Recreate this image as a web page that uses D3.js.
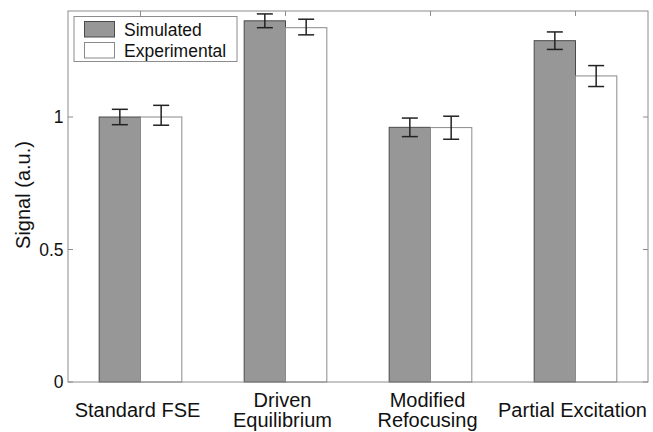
<!DOCTYPE html>
<html><head><meta charset="utf-8">
<script src="https://cdn.jsdelivr.net/npm/d3@7"></script>
<style>body{margin:0;background:#fff;} text{font-family:"Liberation Sans",Arial,sans-serif;}</style>
</head><body>
<svg id="c" width="653" height="432"></svg>
<script>
const categories = [["Standard FSE"], ["Driven","Equilibrium"], ["Modified","Refocusing"], ["Partial Excitation"]];
const seriesNames = ["Simulated", "Experimental"];
const simulated = [1.0, 1.363, 0.961, 1.288];
const simulatedErr = [0.029, 0.026, 0.035, 0.033];
const experimental = [1.0, 1.337, 0.960, 1.155];
const experimentalErrLow = [0.031, 0.027, 0.044, 0.040];
const experimentalErrHigh = [0.044, 0.032, 0.043, 0.039];
const yTicks = [0, 0.5, 1];

const svg = d3.select("#c");
const L = 68, R = 648, T = 11, B = 382;
const x = d3.scaleBand().domain(d3.range(categories.length)).range([L, R]).paddingInner(0.43).paddingOuter(0.215);
const y = d3.scaleLinear().domain([0, 1.4]).range([B, T]);
const bw = x.bandwidth() / 2;
const cx = i => x(i) + x.bandwidth() / 2;

const series = [
  {vals: simulated, lo: simulatedErr, hi: simulatedErr, fill: "#979797", stroke: "#4a4a4a", off: 0},
  {vals: experimental, lo: experimentalErrLow, hi: experimentalErrHigh, fill: "#fff", stroke: "#8a8a8a", off: 1}
];
series.forEach(s => {
  svg.append("g").selectAll("rect").data(s.vals).enter().append("rect")
    .attr("x", (d, i) => x(i) + s.off * bw)
    .attr("y", d => y(d))
    .attr("width", bw)
    .attr("height", d => y(0) - y(d))
    .attr("fill", s.fill).attr("stroke", s.stroke).attr("stroke-width", 1);
});

svg.append("rect").attr("x", L).attr("y", T).attr("width", R - L).attr("height", B - T)
  .attr("fill", "none").attr("stroke", "#8c8c8c").attr("stroke-width", 1);

const ya = svg.append("g");
yTicks.forEach(t => {
  ya.append("line").attr("x1", L).attr("x2", L + 5).attr("y1", y(t)).attr("y2", y(t)).attr("stroke", "#8c8c8c");
  ya.append("line").attr("x1", R - 5).attr("x2", R).attr("y1", y(t)).attr("y2", y(t)).attr("stroke", "#8c8c8c");
  ya.append("text").attr("x", L - 4.5).attr("y", y(t)).attr("dy", "0.36em").attr("text-anchor", "end")
    .attr("font-size", 17.5).attr("fill", "#111").text(d3.format("~g")(t));
});
categories.forEach((c, i) => {
  svg.append("line").attr("x1", cx(i)).attr("x2", cx(i)).attr("y1", T).attr("y2", T + 5).attr("stroke", "#8c8c8c");
  svg.append("line").attr("x1", cx(i)).attr("x2", cx(i)).attr("y1", B).attr("y2", B - 5).attr("stroke", "#8c8c8c");
  const tx = svg.append("text").attr("text-anchor", "middle").attr("font-size", 20).attr("fill", "#111");
  const y0 = c.length === 1 ? 417 : 406.5;
  c.forEach((line, k) => {
    tx.append("tspan").attr("x", cx(i) - 3).attr("y", y0 + k * 20.5).text(line);
  });
});

series.forEach(s => {
  const g = svg.append("g").attr("stroke", "#222").attr("stroke-width", 1.5);
  s.vals.forEach((v, i) => {
    const xc = x(i) + s.off * bw + bw / 2;
    const y1 = y(v + s.hi[i]), y2 = y(v - s.lo[i]);
    g.append("line").attr("x1", xc).attr("x2", xc).attr("y1", y1).attr("y2", y2);
    g.append("line").attr("x1", xc - 8).attr("x2", xc + 8).attr("y1", y1).attr("y2", y1);
    g.append("line").attr("x1", xc - 8).attr("x2", xc + 8).attr("y1", y2).attr("y2", y2);
  });
});

svg.append("text").attr("transform", "translate(29.5,195) rotate(-90)").attr("text-anchor", "middle")
  .attr("font-size", 20).attr("fill", "#111").text("Signal (a.u.)");

const lg = svg.append("g");
lg.append("rect").attr("x", 74).attr("y", 16.5).attr("width", 163).attr("height", 45)
  .attr("fill", "#fff").attr("stroke", "#8c8c8c");
series.forEach((s, k) => {
  lg.append("rect").attr("x", 84.5).attr("y", 21.5 + k * 21).attr("width", 30).attr("height", 15.5)
    .attr("fill", s.fill).attr("stroke", s.stroke);
  lg.append("text").attr("x", 124).attr("y", 29.5 + k * 21).attr("dy", "0.36em")
    .attr("font-size", 17.5).attr("fill", "#111").text(seriesNames[k]);
});
</script>
</body></html>
